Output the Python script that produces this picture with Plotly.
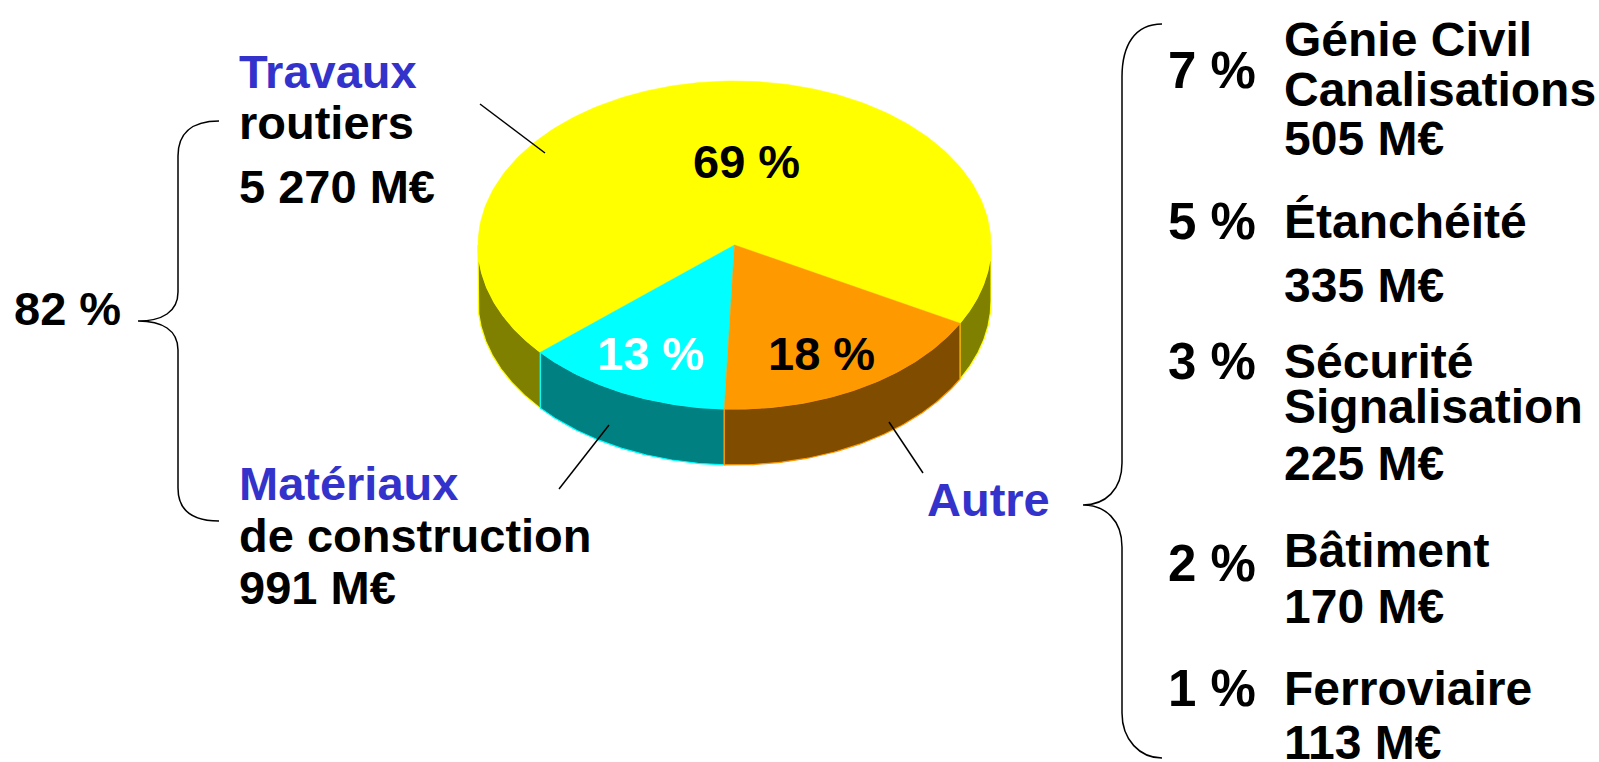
import numpy as np
import plotly.graph_objects as go

# main split of the market (M€)
segments = ["Travaux routiers", "Matériaux de construction", "Autre"]
segment_values = [5270, 991, 1348]
segment_pct = ["69 %", "13 %", "18 %"]
group_pct = "82 %"

# breakdown of "Autre"
autre_names = ["Génie Civil<br>Canalisations", "Étanchéité", "Sécurité<br>Signalisation",
               "Bâtiment", "Ferroviaire"]
autre_values = [505, 335, 225, 170, 113]
autre_pct = ["7 %", "5 %", "3 %", "2 %", "1 %"]

FONT = "Liberation Sans, Arial, sans-serif"
BLUE = "#3333CC"
W, H = 1599, 762

# pie geometry (pixel space)
CX, CY, RX, RY, DEPTH = 734.5, 245, 256.5, 164, 56
START = 28.5  # degrees, clockwise on screen
# drawing order around the pie: Autre, Matériaux, Travaux
pie_order = [2, 1, 0]
top_colors = {0: "#FFFF00", 1: "#00FFFF", 2: "#FF9900"}
side_colors = {0: "#808000", 1: "#008080", 2: "#7F4C00"}


def money(v):
    return f"{v:,} M€".replace(",", " ")


def ell(t, dy=0):
    r = np.radians(t)
    return CX + RX * np.cos(r), CY + RY * np.sin(r) + dy


fig = go.Figure()

total = sum(segment_values)
spans = {}
a = START
for k in pie_order:
    span = segment_values[k] / total * 360
    spans[k] = (a, a + span)
    a += span

# side faces (only the front half is visible: 0..180 deg)
for k in [0, 1, 2]:
    a0, a1 = spans[k]
    pieces = []
    for lo, hi in [(0, 180), (360, 540)]:
        s, e = max(a0, lo), min(a1, hi)
        if e > s:
            pieces.append((s, e))
    for s, e in pieces:
        t = np.linspace(s, e, 80)
        xt, yt = ell(t)
        xb, yb = ell(t[::-1], DEPTH)
        fig.add_trace(go.Scatter(
            x=np.concatenate([xt, xb, xt[:1]]), y=np.concatenate([yt, yb, yt[:1]]),
            mode="lines", fill="toself", fillcolor=side_colors[k],
            line=dict(color=top_colors[k], width=1.2), hoverinfo="skip"))

# top faces
for k in [0, 1, 2]:
    a0, a1 = spans[k]
    t = np.linspace(a0, a1, 200)
    xt, yt = ell(t)
    fig.add_trace(go.Scatter(
        x=np.concatenate([[CX], xt, [CX]]), y=np.concatenate([[CY], yt, [CY]]),
        mode="lines", fill="toself", fillcolor=top_colors[k],
        line=dict(color=top_colors[k], width=0.5), hoverinfo="skip"))


def add_text(x, base, text, size=47, color="black", xanchor="left"):
    fig.add_annotation(x=x, y=base - 0.35 * size, text=f"<b>{text}</b>", showarrow=False,
                       xanchor=xanchor, yanchor="middle",
                       font=dict(family=FONT, size=size, color=color))


# percentages on the pie
add_text(746, 178, segment_pct[0], xanchor="center")
add_text(650, 370, segment_pct[1], color="white", xanchor="center")
add_text(821, 370, segment_pct[2], xanchor="center")

# left labels
name0 = segments[0].split(" ", 1)
add_text(237, 88, name0[0], color=BLUE)
add_text(237, 139, name0[1])
add_text(237, 203, money(segment_values[0]))
name1 = segments[1].split(" ", 1)
add_text(237, 500, name1[0], color=BLUE)
add_text(237, 552, name1[1])
add_text(237, 604, money(segment_values[1]))
add_text(12, 325, group_pct)
add_text(925, 516, segments[2], color=BLUE)

# right breakdown
pct_base = [88, 239, 379, 581, 706]
line_base = [[56, 106, 155], [238, 302], [378, 423, 480], [567, 623], [705, 759]]
RS = 48
for i, name in enumerate(autre_names):
    add_text(1258, pct_base[i], autre_pct[i], size=51, xanchor="right")
    lines = name.split("<br>") + [money(autre_values[i])]
    for ln, b in zip(lines, line_base[i]):
        add_text(1282, b, ln, size=RS)

# leader lines
for x0, y0, x1, y1 in [(480, 104, 545, 153), (609, 425, 559, 489), (889, 422, 923, 473)]:
    fig.add_shape(type="line", x0=x0, y0=y0, x1=x1, y1=y1, line=dict(color="black", width=1.5))

# braces
left_brace = ("M219,121 C190,121 178,135 178,156 L178,292 C178,312 162,321 138,321 "
              "C162,321 178,330 178,350 L178,488 C178,508 190,521 219,521")
right_brace = ("M1162,24 C1135,24 1122,45 1122,77 L1122,463 C1122,490 1105,505 1083,505 "
               "C1105,505 1122,520 1122,547 L1122,713 C1122,740 1140,758 1162,758")
for p in [left_brace, right_brace]:
    fig.add_shape(type="path", path=p, line=dict(color="black", width=1.5))

fig.update_layout(
    width=W, height=H, margin=dict(l=0, r=0, t=0, b=0),
    paper_bgcolor="white", plot_bgcolor="white", showlegend=False,
    xaxis=dict(range=[0, W], visible=False, fixedrange=True),
    yaxis=dict(range=[H, 0], visible=False, fixedrange=True),
)

fig.write_html("out.html", config={"displayModeBar": False},
               post_script="document.body.style.margin='0';")
